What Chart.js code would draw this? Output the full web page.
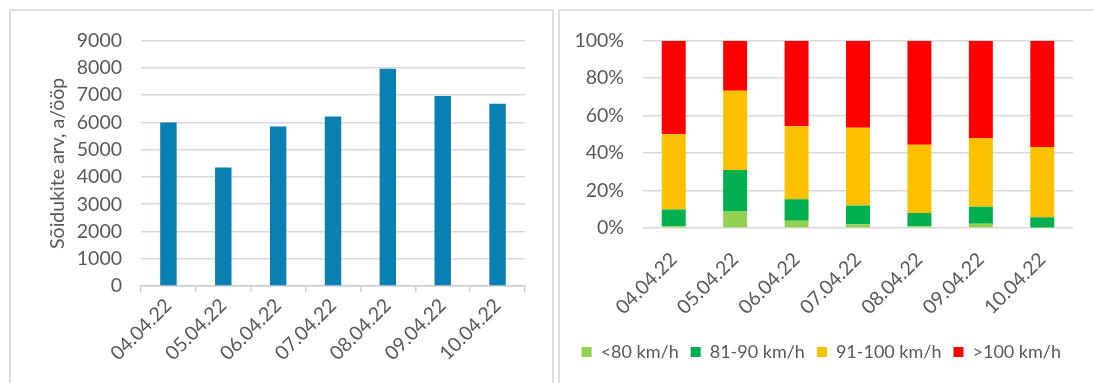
<!DOCTYPE html>
<html>
<head>
<meta charset="utf-8">
<script src="https://cdn.jsdelivr.net/npm/chart.js@4"></script>
<style>
  html, body { margin: 0; padding: 0; background: #ffffff; }
  body { width: 1094px; height: 383px; position: relative; overflow: hidden; }
  .panel { position: absolute; border: 2px solid #dedede; box-sizing: border-box; background: #fff; }
  #panelLeft { left: 9px; top: 9px; width: 545px; height: 400px; }
  #panelRight { left: 558px; top: 9px; width: 560px; height: 400px; }
  canvas { position: absolute; }
  #countChart { left: 10px; top: 10px; }
  #speedChart { left: 558px; top: 10px; }
</style>
</head>
<body>
<div class="panel" id="panelLeft"></div>
<div class="panel" id="panelRight"></div>
<canvas id="countChart" width="543" height="373" style="width:543px;height:373px"></canvas>
<canvas id="speedChart" width="536" height="373" style="width:536px;height:373px"></canvas>
<script>
// Measurement days
const days = ['04.04.22', '05.04.22', '06.04.22', '07.04.22', '08.04.22', '09.04.22', '10.04.22'];

// Vehicles per day
const vehicleCounts = [6000, 4350, 5850, 6220, 7970, 6970, 6690];

// Share of vehicles by speed band, percent
const speedUnder80 = [1.0, 8.8, 3.9, 2.0, 0.9, 2.3, 0.3];
const speed81to90 = [8.9, 22.1, 11.5, 10.0, 7.1, 9.0, 5.5];
const speed91to100 = [40.1, 42.4, 38.9, 41.5, 36.5, 36.7, 37.5];
const speedOver100 = [50.0, 26.7, 45.7, 46.5, 55.5, 52.0, 56.7];

const speedLabels = ['<80 km/h', '81-90 km/h', '91-100 km/h', '>100 km/h'];
const countTicks = { min: 0, max: 9000, step: 1000 };
const shareTicks = { min: 0, max: 100, step: 20 };

const textGrey = '#595959';
const gridGrey = '#d9d9d9';
const fontFamily = 'Lato, "Open Sans", sans-serif';
const fontSize = 19.5;

Chart.defaults.font.family = fontFamily;
Chart.defaults.color = textGrey;
Chart.defaults.animation = false;

// Daily vehicle count
new Chart(document.getElementById('countChart'), {
  type: 'bar',
  data: {
    labels: days,
    datasets: [{
      label: 'Sõidukite arv',
      data: vehicleCounts,
      backgroundColor: '#0A80B2',
      barPercentage: 0.3,
      categoryPercentage: 1.0
    }]
  },
  options: {
    responsive: false,
    devicePixelRatio: 1,
    layout: { padding: { left: 32, right: 28, top: 29, bottom: 0 } },
    plugins: { legend: { display: false }, tooltip: { enabled: false } },
    scales: {
      x: {
        grid: { display: true, drawOnChartArea: false, drawTicks: true, tickLength: 6, color: '#cfcfcf', lineWidth: 1.5, offset: true },
        border: { display: true, color: '#cfcfcf', width: 1.5 },
        ticks: { font: { size: fontSize }, color: textGrey, maxRotation: 45, minRotation: 45, autoSkip: false, padding: 2 },
        afterFit: (s) => { s.height = 97; }
      },
      y: {
        min: countTicks.min,
        max: countTicks.max,
        grid: { color: gridGrey, lineWidth: 1.5, drawTicks: false },
        border: { display: false },
        ticks: { stepSize: countTicks.step, font: { size: fontSize }, color: textGrey, padding: 19, callback: (v) => String(v) },
        title: { display: true, text: 'Sõidukite arv, a/ööp', font: { size: fontSize }, color: textGrey, padding: { top: 4, bottom: 0 } },
        afterFit: (s) => { s.width = 99; }
      }
    }
  }
});

// Speed band distribution per day
const bandColours = ['#92D050', '#00B050', '#FFC000', '#FF0000'];
const bandData = [speedUnder80, speed81to90, speed91to100, speedOver100];

new Chart(document.getElementById('speedChart'), {
  type: 'bar',
  data: {
    labels: days,
    datasets: speedLabels.map((name, i) => ({
      label: name,
      data: bandData[i],
      backgroundColor: bandColours[i],
      barPercentage: 0.39,
      categoryPercentage: 1.0
    }))
  },
  options: {
    responsive: false,
    devicePixelRatio: 1,
    layout: { padding: { left: 0, right: 21, top: 29, bottom: 12 } },
    plugins: {
      tooltip: { enabled: false },
      legend: {
        position: 'bottom',
        align: 'end',
        labels: {
          boxWidth: 10, boxHeight: 10, padding: 12,
          font: { size: 18 }, color: textGrey
        }
      }
    },
    scales: {
      x: {
        stacked: true,
        grid: { display: false },
        border: { display: false },
        ticks: { font: { size: fontSize }, color: textGrey, maxRotation: 45, minRotation: 45, autoSkip: false, padding: 12 },
        afterFit: (s) => { s.height = 103; }
      },
      y: {
        stacked: true,
        min: shareTicks.min,
        max: shareTicks.max,
        grid: { color: gridGrey, lineWidth: 1.5, drawTicks: false },
        border: { display: false },
        ticks: { stepSize: shareTicks.step, font: { size: fontSize }, color: textGrey, padding: 19, callback: (v) => v + '%' },
        afterFit: (s) => { s.width = 85; }
      }
    }
  }
});
</script>
</body>
</html>
